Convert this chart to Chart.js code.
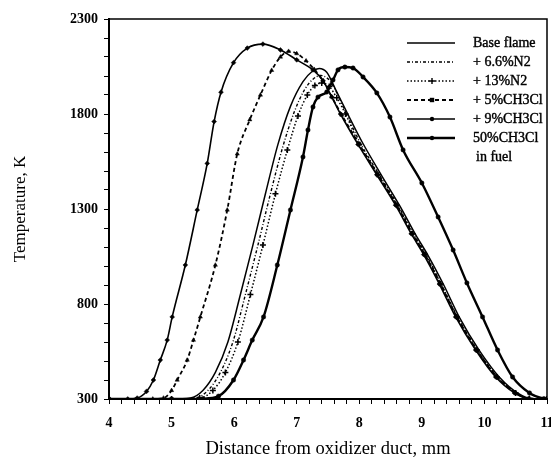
<!DOCTYPE html>
<html>
<head>
<meta charset="utf-8">
<script src="https://cdn.jsdelivr.net/npm/chart.js@4.4.1/dist/chart.umd.min.js"></script>
<style>
  html, body { margin: 0; padding: 0; background: #fff; }
</style>
</head>
<body>
<canvas id="tempChart" width="551" height="463"></canvas>
<script>
// ========================== DATA ==========================
const seriesNames = ["Base flame", "+ 6.6%N2", "+ 13%N2", "+ 5%CH3Cl", "+ 9%CH3Cl", "50%CH3Cl"];

const baseX = [4.0, 5.0, 5.3, 5.5, 5.7, 5.9, 6.1, 6.3, 6.5, 6.7, 6.9, 7.1, 7.25, 7.36, 7.48, 7.62, 7.8, 8.05, 8.35, 8.65, 8.9, 9.1, 9.35, 9.6, 9.92, 10.24, 10.54, 10.76, 11.0];
const baseT = [300, 300, 305, 345, 440, 600, 850, 1110, 1380, 1640, 1840, 1970, 2025, 2040, 2020, 1930, 1810, 1650, 1480, 1315, 1165, 1055, 900, 730, 555, 415, 330, 302, 300];

const n2aX = [4.0, 5.0, 5.38, 5.58, 5.78, 5.98, 6.18, 6.38, 6.58, 6.78, 6.96, 7.12, 7.26, 7.38, 7.5, 7.62, 7.78, 8.02, 8.32, 8.62, 8.87, 9.07, 9.31, 9.57, 9.89, 10.21, 10.51, 10.73, 11.0];
const n2aT = [300, 300, 305, 345, 440, 600, 850, 1110, 1380, 1630, 1810, 1925, 1983, 2003, 1985, 1925, 1810, 1645, 1480, 1318, 1168, 1058, 905, 732, 556, 416, 331, 302, 300];

const n2bX = [4.0, 5.0, 5.45, 5.66, 5.86, 6.06, 6.26, 6.46, 6.66, 6.85, 7.02, 7.17, 7.29, 7.4, 7.52, 7.64, 7.78, 8.0, 8.3, 8.6, 8.85, 9.05, 9.3, 9.56, 9.88, 10.2, 10.5, 10.72, 11.0];
const n2bT = [300, 300, 305, 345, 440, 600, 850, 1110, 1380, 1610, 1790, 1900, 1950, 1963, 1945, 1885, 1800, 1640, 1480, 1320, 1170, 1060, 905, 732, 558, 416, 332, 302, 300];

const ch5X = [4.0, 4.7, 4.87, 5.0, 5.09, 5.25, 5.35, 5.46, 5.7, 5.89, 6.05, 6.25, 6.42, 6.6, 6.74, 6.87, 7.0, 7.15, 7.28, 7.42, 7.56, 7.72, 8.0, 8.3, 8.6, 8.85, 9.05, 9.3, 9.56, 9.88, 10.2, 10.5, 10.72, 11.0];
const ch5T = [300, 300, 305, 345, 400, 505, 610, 732, 1005, 1295, 1590, 1770, 1900, 2030, 2100, 2130, 2118, 2080, 2035, 1975, 1890, 1795, 1640, 1480, 1320, 1170, 1060, 905, 732, 558, 416, 332, 302, 300];

const ch9X = [4.0, 4.3, 4.45, 4.6, 4.71, 4.82, 4.93, 5.01, 5.22, 5.41, 5.57, 5.68, 5.79, 5.99, 6.21, 6.46, 6.74, 7.0, 7.26, 7.42, 7.56, 7.7, 7.98, 8.28, 8.58, 8.83, 9.03, 9.28, 9.54, 9.86, 10.18, 10.48, 10.7, 11.0];
const ch9T = [300, 300, 305, 340, 400, 505, 610, 732, 1005, 1295, 1540, 1760, 1915, 2070, 2147, 2168, 2137, 2085, 2032, 1975, 1890, 1800, 1640, 1480, 1320, 1170, 1060, 905, 732, 558, 416, 332, 302, 300];

const fuelX = [4.0, 5.0, 5.5, 5.75, 5.99, 6.15, 6.29, 6.47, 6.69, 6.9, 7.1, 7.18, 7.26, 7.34, 7.48, 7.58, 7.66, 7.77, 7.9, 8.06, 8.28, 8.49, 8.7, 9.0, 9.26, 9.5, 9.72, 9.97, 10.21, 10.45, 10.72, 10.95, 11.0];
const fuelT = [300, 300, 302, 315, 400, 505, 610, 732, 1005, 1295, 1574, 1716, 1837, 1889, 1916, 1979, 2032, 2047, 2042, 1995, 1911, 1784, 1611, 1437, 1258, 1084, 911, 732, 558, 416, 332, 302, 300];

const yTickLabels = [300, 800, 1300, 1800, 2300];

// ========================== HELPERS ==========================
function pts(xs, ts){
  return xs.map((x, i) => ({ x: x, y: ts[i] }));
}

function drawMark(ctx, style, x, y, r){
  ctx.beginPath();
  if(style === "cross"){
    ctx.moveTo(x - r, y); ctx.lineTo(x + r, y);
    ctx.moveTo(x, y - r); ctx.lineTo(x, y + r);
    ctx.stroke();
  } else if(style === "rect"){
    ctx.fillRect(x - r, y - r, 2 * r, 2 * r);
  } else if(style){
    ctx.arc(x, y, r, 0, Math.PI * 2);
    ctx.fill();
  }
}

function noPad(s){
  s.paddingLeft = 0; s.paddingRight = 0; s.paddingTop = 0; s.paddingBottom = 0;
}

// ========================== STYLES ==========================
const serif = "'Liberation Serif', 'DejaVu Serif', serif";

const looks = [
  { dash: [], width: 1.5, point: false, radius: 0, mark: null },
  { dash: [3, 2, 1, 2], width: 1.4, point: false, radius: 0, mark: null },
  { dash: [1.5, 2], width: 1.5, point: "cross", radius: 3, mark: "cross" },
  { dash: [4, 3], width: 1.8, point: "triangle", radius: 2.4, mark: "rect" },
  { dash: [], width: 1.6, point: "rectRot", radius: 2.4, mark: "dot" },
  { dash: [], width: 2.4, point: "circle", radius: 2.2, mark: "dot" }
];

const seriesData = [
  pts(baseX, baseT), pts(n2aX, n2aT), pts(n2bX, n2bT),
  pts(ch5X, ch5T), pts(ch9X, ch9T), pts(fuelX, fuelT)
];

const datasets = seriesData.map((d, i) => ({
  label: seriesNames[i],
  data: d,
  showLine: true,
  borderColor: "#000",
  backgroundColor: "#000",
  borderWidth: looks[i].width,
  borderDash: looks[i].dash,
  cubicInterpolationMode: "monotone",
  pointStyle: looks[i].point || "circle",
  pointRadius: looks[i].radius,
  pointBorderWidth: looks[i].point === "cross" ? 1.5 : 0.5,
  pointBorderColor: "#000",
  pointBackgroundColor: "#000"
}));

// ========================== FRAME + LEGEND ==========================
const framePlugin = {
  id: "frame",
  afterDraw(chart){
    const ctx = chart.ctx;
    const a = chart.chartArea;
    ctx.save();
    ctx.strokeStyle = "#000";
    ctx.lineWidth = 1.5;
    ctx.beginPath();
    ctx.moveTo(a.left, a.top);
    ctx.lineTo(a.right, a.top);
    ctx.lineTo(a.right, a.bottom);
    ctx.stroke();

    // legend
    const rows = [43, 62, 81, 100, 119, 138];
    ctx.font = "14px " + serif;
    ctx.textBaseline = "middle";
    ctx.textAlign = "left";
    ctx.fillStyle = "#000";
    rows.forEach((y, i) => {
      const lk = looks[i];
      ctx.lineWidth = lk.width;
      ctx.setLineDash(lk.dash);
      ctx.beginPath();
      ctx.moveTo(407, y);
      ctx.lineTo(455, y);
      ctx.stroke();
      ctx.setLineDash([]);
      ctx.lineWidth = 1.4;
      drawMark(ctx, lk.mark, 432, y, lk.mark === "cross" ? 3 : 2.2);
      ctx.lineWidth = 0.4;
      ctx.fillText(seriesNames[i], 473, y);
      ctx.strokeText(seriesNames[i], 473, y);
    });
    ctx.fillText("in fuel", 476, 157);
    ctx.strokeText("in fuel", 476, 157);
    ctx.restore();
  }
};

// ========================== CHART ==========================
function initChart(){
  const ctx = document.getElementById("tempChart").getContext("2d");
  new Chart(ctx, {
    type: "scatter",
    data: { datasets: datasets },
    options: {
      responsive: false,
      animation: false,
      devicePixelRatio: 1,
      layout: { autoPadding: false, padding: { top: 19, right: 4, left: 0, bottom: 0 } },
      plugins: { legend: { display: false }, tooltip: { enabled: false } },
      scales: {
        x: {
          type: "linear",
          min: 4, max: 11,
          afterFit: (s) => { s.height = 64; noPad(s); },
          border: { display: true, color: "#000", width: 2 },
          grid: { display: true, drawOnChartArea: false, drawTicks: true, tickLength: 5, color: "#000", lineWidth: 1 },
          ticks: {
            stepSize: 0.2,
            autoSkip: false,
            maxRotation: 0,
            padding: 11,
            color: "#000",
            font: { family: serif, size: 14, weight: "bold" },
            callback: (v) => Math.abs(v - Math.round(v)) < 1e-6 ? String(Math.round(v)) : ""
          },
          title: {
            display: true,
            text: "Distance from oxidizer duct, mm",
            color: "#000",
            font: { family: serif, size: 18.5 },
            padding: { top: 0, bottom: 3 }
          }
        },
        y: {
          type: "linear",
          min: 300, max: 2300,
          afterFit: (s) => { s.width = 109; noPad(s); },
          border: { display: true, color: "#000", width: 2 },
          grid: { display: true, drawOnChartArea: false, drawTicks: true, tickLength: 5, color: "#000", lineWidth: 1 },
          ticks: {
            stepSize: 100,
            autoSkip: false,
            padding: 6,
            color: "#000",
            font: { family: serif, size: 14, weight: "bold" },
            callback: (v) => yTickLabels.includes(Math.round(v)) ? String(Math.round(v)) : ""
          },
          title: {
            display: true,
            text: "Temperature, K",
            color: "#000",
            font: { family: serif, size: 17 },
            padding: { top: 10, bottom: 0 }
          }
        }
      }
    },
    plugins: [framePlugin]
  });
}

window.onload = initChart;
</script>
</body>
</html>
